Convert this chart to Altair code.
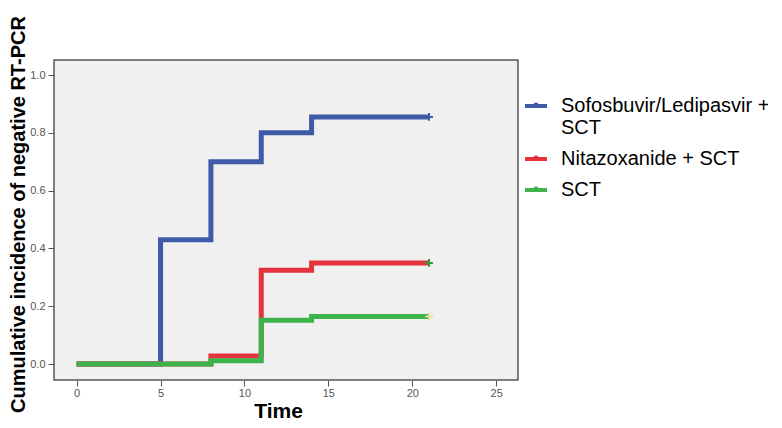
import altair as alt
import pandas as pd

groups = ["Sofosbuvir/Ledipasvir + SCT", "Nitazoxanide + SCT", "SCT"]
colors = ["#3F5AA8", "#E5333B", "#3DB44B"]

t_sof = [0, 5, 8, 11, 14, 21]
v_sof = [0.0, 0.43, 0.70, 0.80, 0.855, 0.855]
t_nit = [0, 8, 11, 14, 21]
v_nit = [0.0, 0.028, 0.325, 0.35, 0.35]
t_sct = [0, 8, 11, 14, 21]
v_sct = [0.0, 0.012, 0.152, 0.165, 0.165]

censor_time = [21, 21, 21]
censor_val = [0.855, 0.35, 0.165]
censor_colors = ["#3F5AA8", "#2F9E3F", "#E6DFA0"]

x_ticks = [0, 5, 10, 15, 20, 25]
y_ticks = [0.0, 0.2, 0.4, 0.6, 0.8, 1.0]

rows = []
for g, ts, vs in zip(groups, [t_sof, t_nit, t_sct], [v_sof, v_nit, v_sct]):
    for t, v in zip(ts, vs):
        rows.append({"group": g, "time": t, "value": v, "order": groups.index(g)})
df = pd.DataFrame(rows)
cdf = pd.DataFrame({"group": groups, "time": censor_time, "value": censor_val})

xscale = alt.Scale(domain=[-1.35, 26.3], nice=False, zero=False)
yscale = alt.Scale(domain=[-0.055, 1.052], nice=False, zero=False)

xaxis = alt.Axis(values=x_ticks, title="Time", titleFontSize=21, titleFontWeight="bold",
                 titleColor="black", titleX=224, titleY=37, titleBaseline="alphabetic",
                 titleFont="Liberation Sans", labelPadding=1)
yaxis = alt.Axis(values=y_ticks, format=".1f", title="Cumulative incidence of negative RT-PCR",
                 titleFontSize=20, titleFontWeight="bold", titleColor="black",
                 titleX=-30, titleY=154, titleBaseline="alphabetic", titleAlign="center",
                 titleFont="Liberation Sans", labelPadding=3)

lab = "datum.label == 'Sofosbuvir/Ledipasvir + SCT' ? ['Sofosbuvir/Ledipasvir +', 'SCT'] : datum.label"

lines = alt.Chart(df).mark_line(interpolate="step-after", strokeWidth=5).encode(
    x=alt.X("time:Q", scale=xscale, axis=xaxis),
    y=alt.Y("value:Q", scale=yscale, axis=yaxis),
    color=alt.Color("group:N", scale=alt.Scale(domain=groups, range=colors),
                    sort=groups,
                    legend=alt.Legend(title=None, orient="none", legendX=469, legendY=33,
                                      labelExpr=lab, labelFontSize=20, labelColor="black",
                                      labelFont="Liberation Sans", labelOffset=12,
                                      symbolType="M-1,0H1M0,0V-0.3", symbolSize=484,
                                      symbolStrokeWidth=4, rowPadding=8, padding=0,
                                      labelLimit=300)),
    order=alt.Order("order:Q"),
    detail="group:N",
)

cens = alt.Chart(cdf).mark_point(shape="M-1,0H1M0,-1V1", size=60, strokeWidth=2, filled=False, opacity=1).encode(
    x=alt.X("time:Q", scale=xscale),
    y=alt.Y("value:Q", scale=yscale),
    stroke=alt.Stroke("group:N", scale=alt.Scale(domain=groups, range=censor_colors), legend=None),
)

chart = alt.layer(lines, cens).resolve_scale(stroke="independent").properties(
    width=464, height=320,
    autosize=alt.AutoSizeParams(type="none"),
    padding={"left": 46, "top": 52, "right": 250, "bottom": 44},
    background="white",
).configure_view(
    fill="#F0F0F0", stroke="#555555", strokeWidth=1.5
).configure_axis(
    grid=False, domain=False, tickColor="#555555", tickSize=6, tickWidth=1,
    labelColor="#555555", labelFont="Liberation Sans", labelFontSize=11
)

chart.save("out.html", embed_options={"renderer": "svg", "actions": False})
